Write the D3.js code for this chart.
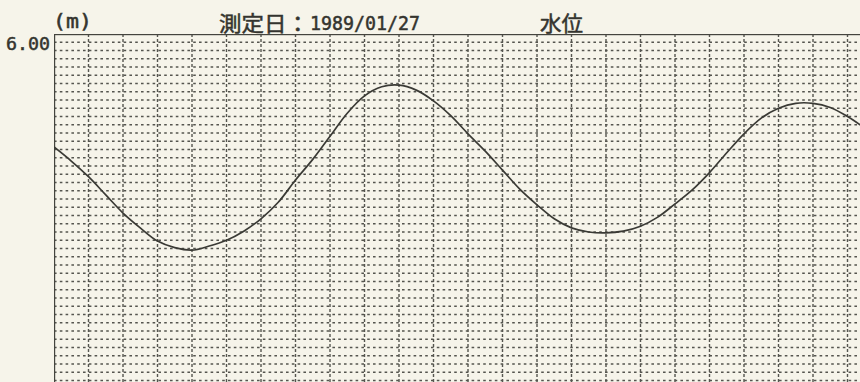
<!DOCTYPE html>
<html>
<head>
<meta charset="utf-8">
<script src="https://cdn.jsdelivr.net/npm/d3@7"></script>
<style>
  html, body { margin: 0; padding: 0; background: #f6f4ea; }
  svg { display: block; }
</style>
</head>
<body>
<div id="chart"></div>
<script>
// values (hours from left edge, water level in m)
var hours = [0, 0.5, 1, 1.5, 2, 2.5, 3, 3.5, 4, 4.5, 5, 5.5, 6, 6.5, 7, 7.5, 8, 8.5, 9, 9.5,
  10, 10.5, 11, 11.5, 12, 12.5, 13, 13.5, 14, 14.5, 15, 15.5, 16, 16.5, 17, 17.5, 18, 18.5, 19, 19.5,
  20, 20.5, 21, 21.5, 22, 22.5, 23, 23.5];
var level = [4.63, 4.46, 4.27, 4.05, 3.83, 3.65, 3.49, 3.41, 3.38, 3.43, 3.50, 3.61, 3.76, 3.96, 4.23, 4.48,
  4.76, 5.04, 5.25, 5.36, 5.38, 5.32, 5.19, 5.01, 4.79, 4.58, 4.35, 4.12, 3.93, 3.76, 3.65, 3.60,
  3.59, 3.61, 3.67, 3.78, 3.94, 4.11, 4.32, 4.56, 4.79, 4.98, 5.10, 5.16, 5.16, 5.11, 5.00, 4.86];
var yTickValues = [6.00];
var unitLabel = '(m)';
var titleLabel = '測定日：';
var dateLabel = '1989/01/27';
var seriesLabel = '水位';

var width = 860;
var height = 382;
var left = 54;
var top_ = 34;
var hourWidth = 34.5;
var rowHeight = 8.25;   // one row = 0.1 m
var ink = '#34342f';

var x = d3.scaleLinear().domain([0, 24]).range([left, left + 24 * hourWidth]);
var y = d3.scaleLinear().domain([0, 6]).range([top_ + 60 * rowHeight, top_]);

var svg = d3.select('#chart').append('svg').attr('width', width).attr('height', height);
svg.append('rect').attr('width', width).attr('height', height).style('fill', '#f6f4ea');

svg.append('clipPath').attr('id', 'plot-clip')
  .append('rect').attr('x', left).attr('y', top_).attr('width', width - left).attr('height', height - top_);

var plot = svg.append('g').attr('clip-path', 'url(#plot-clip)');

// dotted rows, every 0.1 m
var rows = d3.range(1, 60).map(function(i){ return i / 10; });
plot.selectAll('line.row').data(rows).enter().append('line')
  .attr('class', 'row')
  .attr('x1', left).attr('x2', x(24))
  .attr('y1', function(d){ return y(d); }).attr('y2', function(d){ return y(d); })
  .style('stroke', '#55554f').style('stroke-width', 1.7)
  .style('stroke-dasharray', '2.6,3.2');

// dashed hour columns
plot.selectAll('line.col').data(d3.range(1, 24)).enter().append('line')
  .attr('class', 'col')
  .attr('x1', function(d){ return x(d); }).attr('x2', function(d){ return x(d); })
  .attr('y1', top_).attr('y2', y(0))
  .style('stroke', '#55554f').style('stroke-width', 1.4)
  .style('stroke-dasharray', '3,2');

// frame
plot.append('rect').attr('x', left).attr('y', top_)
  .attr('width', x(24) - left).attr('height', y(0) - top_)
  .style('fill', 'none').style('stroke', '#44443e').style('stroke-width', 2.4);

// water level curve
var line = d3.line()
  .x(function(d, i){ return x(hours[i]); })
  .y(function(d){ return y(d); })
  .curve(d3.curveCatmullRom);

plot.append('path').datum(level)
  .attr('d', line)
  .style('fill', 'none').style('stroke', '#3a3a35').style('stroke-width', 1.7);

// y axis, only the top value is printed
var yAxis = svg.append('g').attr('transform', 'translate(' + (left - 4) + ',0)')
  .call(d3.axisLeft(y).tickValues(yTickValues).tickFormat(d3.format('.2f')).tickSize(0));
yAxis.select('.domain').remove();
yAxis.selectAll('text')
  .attr('dy', '0.85em').attr('x', 0)
  .style('font-family', '"DejaVu Sans Mono", monospace').style('font-size', '18px')
  .style('fill', ink).style('stroke', ink).style('stroke-width', 0.5)
  .attr('textLength', 44).attr('lengthAdjust', 'spacingAndGlyphs');

// header texts
var header = function(label, xPos, yPos, family, size, len){
  svg.append('text').attr('x', xPos).attr('y', yPos).text(label)
    .style('font-family', family).style('font-size', size + 'px')
    .style('fill', ink).style('stroke', ink).style('stroke-width', 0.5)
    .attr('textLength', len).attr('lengthAdjust', 'spacingAndGlyphs');
};
header(unitLabel, 53, 28, '"DejaVu Sans Mono", monospace', 19, 39);
header(titleLabel, 219, 31, '"Noto Sans CJK JP", sans-serif', 21, 90);
header(dateLabel, 310, 30, '"DejaVu Sans Mono", monospace', 19, 110);
header(seriesLabel, 540, 31, '"Noto Sans CJK JP", sans-serif', 21, 43);
</script>
</body>
</html>
